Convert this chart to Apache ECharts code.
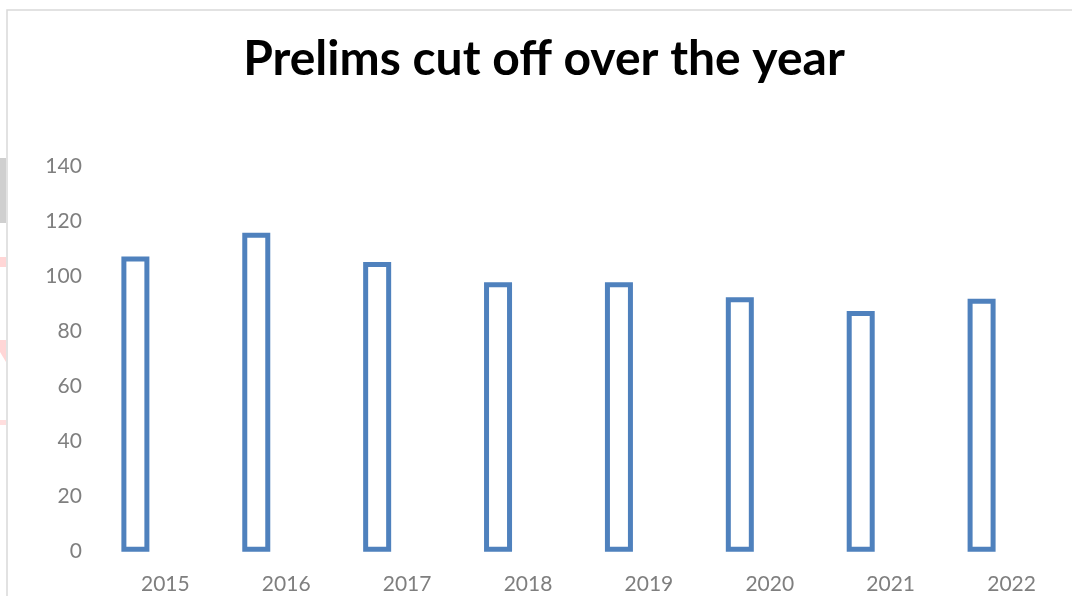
<!DOCTYPE html>
<html>
<head>
<meta charset="utf-8">
<script src="https://cdn.jsdelivr.net/npm/echarts@6/dist/echarts.min.js"></script>
<style>
  html, body { margin: 0; padding: 0; background: #fff; }
  #chart { width: 1072px; height: 596px; }
</style>
</head>
<body>
<div id="chart"></div>
<script>
const years = ['2015', '2016', '2017', '2018', '2019', '2020', '2021', '2022']
const cutoff = [107.34, 116, 105.34, 98, 98, 92.51, 87.54, 92]
const spare = [] // second (empty) series from the sheet, it only takes room in each category
const yTicks = [0, 20, 40, 60, 80, 100, 120, 140]

const myChart = echarts.init(document.getElementById('chart'))

const option = {
  backgroundColor: '#fff',
  animation: false,
  title: {
    text: 'Prelims cut off over the year',
    left: 539,
    top: 31,
    textAlign: 'center',
    textStyle: { fontFamily: 'Lato', fontWeight: 'bold', fontSize: 48, color: '#000' },
  },
  graphic: [
    { type: 'rect', silent: true, shape: { x: 0, y: 158, width: 6, height: 65 }, style: { fill: '#cfcfcf' } },
    { type: 'rect', silent: true, shape: { x: 0, y: 257, width: 6, height: 10 }, style: { fill: '#ffd6d6' } },
    { type: 'polygon', silent: true, shape: { points: [[0, 340], [6, 340], [6, 362], [0, 352]] }, style: { fill: '#ffd6d6' } },
    { type: 'rect', silent: true, shape: { x: 0, y: 420, width: 6, height: 5 }, style: { fill: '#ffdede' } },
    { type: 'rect', silent: true, shape: { x: 7, y: 10, width: 1200, height: 800 }, style: { fill: 'none', stroke: '#d9d9d9', lineWidth: 1.5 } },
  ],
  grid: {
    left: 104.9,
    top: 166.7,
    width: 977.6,
    height: 385,
  },
  xAxis: {
    type: 'category',
    data: years,
    axisLine: { show: false },
    axisTick: { show: false },
    axisLabel: { margin: 22, fontFamily: 'Lato', fontSize: 21, color: '#7f7f7f' },
  },
  yAxis: {
    type: 'value',
    min: yTicks[0],
    max: yTicks[yTicks.length - 1],
    interval: 20,
    splitLine: { show: false },
    axisLine: { show: false },
    axisTick: { show: false },
    axisLabel: { margin: 23, fontFamily: 'Lato', fontSize: 21, color: '#7f7f7f' },
  },
  series: [
    {
      name: 'Cut off',
      type: 'bar',
      data: cutoff,
      barWidth: 28,
      barGap: '114%',
      itemStyle: { color: '#fff', borderColor: '#4f81bd', borderWidth: 5 },
    },
    {
      name: 'Spare',
      type: 'bar',
      data: spare,
      barWidth: 28,
    },
  ],
}

myChart.setOption(option)
</script>
</body>
</html>
